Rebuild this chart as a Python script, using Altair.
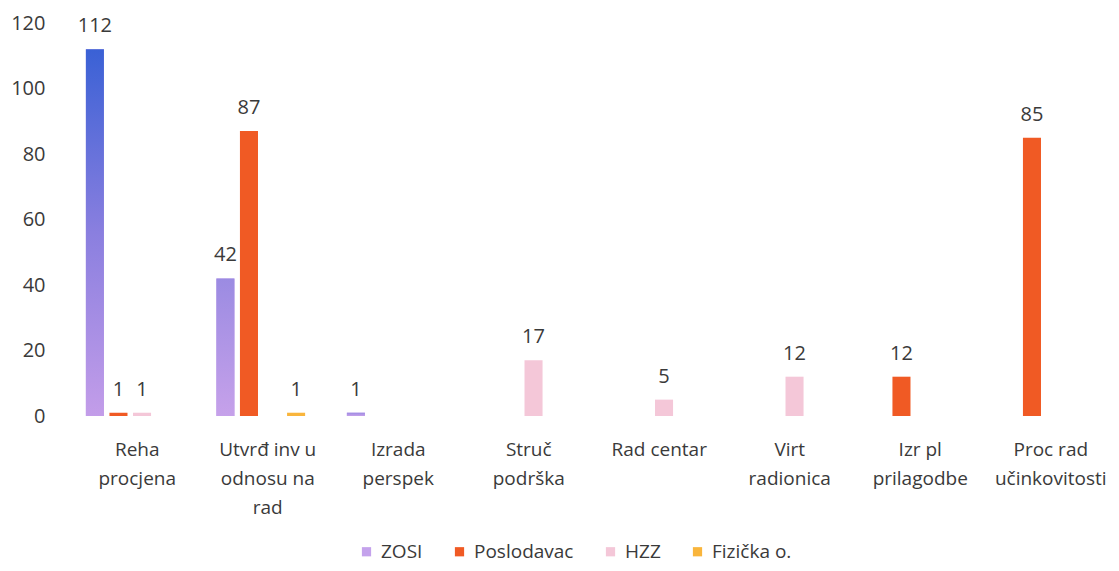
import altair as alt
import pandas as pd

categories = ["Reha procjena", "Utvrđ inv u odnosu na rad", "Izrada perspek",
              "Struč podrška", "Rad centar", "Virt radionica",
              "Izr pl prilagodbe", "Proc rad učinkovitosti"]
label_lines = [["Reha", "procjena"], ["Utvrđ inv u", "odnosu na", "rad"],
               ["Izrada", "perspek"], ["Struč", "podrška"], ["Rad centar"],
               ["Virt", "radionica"], ["Izr pl", "prilagodbe"],
               ["Proc rad", "učinkovitosti"]]
series = ["ZOSI", "Poslodavac", "HZZ", "Fizička o."]
zosi = [112, 42, 1, 0, 0, 0, 0, 0]
poslodavac = [1, 87, 0, 0, 0, 0, 12, 85]
hzz = [1, 0, 0, 17, 5, 12, 0, 0]
fizicka = [0, 1, 0, 0, 0, 0, 0, 0]
colors = ["#c4a2ec", "#f05a24", "#f4c7d8", "#f9b53c"]
y_ticks = [0, 20, 40, 60, 80, 100, 120]

rows = []
for s, vals in zip(series, [zosi, poslodavac, hzz, fizicka]):
    for c, v in zip(categories, vals):
        if v > 0:
            rows.append({"kategorija": c, "serija": s, "vrijednost": v})
df = pd.DataFrame(rows)

# multi-line axis labels
expr = "datum.label"
for c, lines in reversed(list(zip(categories, label_lines))):
    arr = "[" + ",".join("'" + l + "'" for l in lines) + "]"
    expr = f"datum.label == '{c}' ? {arr} : ({expr})"

FONT = "Open Sans"
TXT = "#3a3a3a"

x_enc = alt.X("kategorija:N", sort=categories,
              scale=alt.Scale(domain=categories, paddingInner=0.32, paddingOuter=0.16),
              axis=alt.Axis(title=None, labelAngle=0, domain=False, ticks=False,
                            labelPadding=24, labelFontSize=19, labelFont=FONT,
                            labelColor=TXT, labelLineHeight=29, labelExpr=expr,
                            labelBaseline="top", labelOffset=7))
xo_enc = alt.XOffset("serija:N", sort=series,
                     scale=alt.Scale(domain=series, paddingInner=0.234, paddingOuter=0))
y_enc = alt.Y("vrijednost:Q",
              scale=alt.Scale(domain=[0, 120], nice=False),
              axis=alt.Axis(title=None, values=y_ticks, domain=False, ticks=False,
                            grid=False, labelPadding=20, labelFontSize=20,
                            labelFont=FONT, labelColor=TXT))

base = alt.Chart(df)

bars = base.mark_bar().encode(
    x=x_enc, xOffset=xo_enc, y=y_enc,
    color=alt.Color("serija:N", sort=series,
                    scale=alt.Scale(domain=series, range=colors),
                    legend=alt.Legend(title=None, orient="none", direction="horizontal",
                                      columns=4, legendX=292, legendY=519,
                                      symbolType="square", symbolSize=85,
                                      symbolStrokeWidth=0, labelFontSize=19,
                                      labelFont=FONT, labelColor=TXT,
                                      columnPadding=27, labelOffset=5)),
)

zosi_big = base.transform_filter(
    (alt.datum.serija == "ZOSI") & (alt.datum.vrijednost >= 100)).mark_bar(
    color=alt.Gradient(gradient="linear", x1=0, y1=0, x2=0, y2=1,
                       stops=[alt.GradientStop(color="#3a61d5", offset=0),
                              alt.GradientStop(color="#8a7fdf", offset=0.5),
                              alt.GradientStop(color="#c39de9", offset=1)])
).encode(x=x_enc, xOffset=xo_enc, y=y_enc)

zosi_small = base.transform_filter(
    (alt.datum.serija == "ZOSI") & (alt.datum.vrijednost < 100)).mark_bar(
    color=alt.Gradient(gradient="linear", x1=0, y1=0, x2=0, y2=1,
                       stops=[alt.GradientStop(color="#9b8be2", offset=0),
                              alt.GradientStop(color="#c6a1ea", offset=1)])
).encode(x=x_enc, xOffset=xo_enc, y=y_enc)

labels = base.mark_text(baseline="alphabetic", dy=-17, fontSize=20, font=FONT,
                        color=TXT).encode(
    x=x_enc, xOffset=xo_enc, y=y_enc, text="vrijednost:Q")

chart = alt.layer(bars, zosi_big, zosi_small, labels).properties(
    width=1044, height=393,
    padding={"left": 2, "top": 5, "right": 0, "bottom": 4},
).configure_view(stroke=None)

chart.save("out.html", embed_options={"renderer": "svg", "actions": False})
